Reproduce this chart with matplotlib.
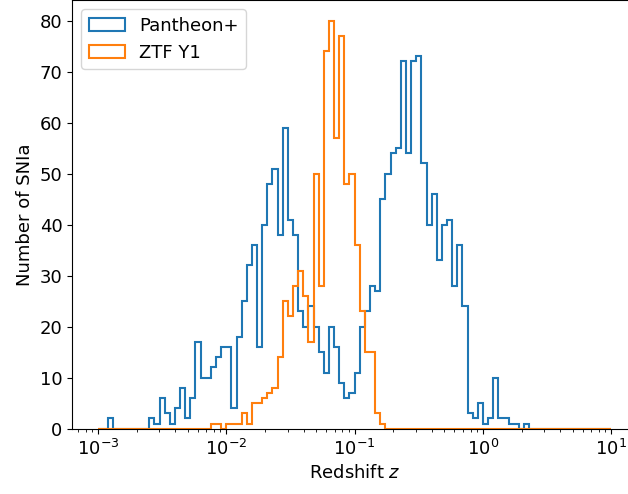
import numpy as np
import matplotlib
matplotlib.use("Agg")
import matplotlib.pyplot as plt

# log-spaced bins from 1e-3 to 1e1 (100 bins)
bin_edges = np.logspace(-3, 1, 101)

pantheon_counts = [
    0, 0, 2, 0, 0, 0, 0, 0, 0, 0,
    2, 1, 6, 3, 1, 4, 8, 2, 6, 17,
    10, 10, 12, 14, 16, 16, 4, 18, 25, 32,
    36, 16, 40, 48, 51, 38, 59, 41, 38, 23,
    20, 24, 20, 15, 11, 20, 16, 9, 6, 7,
    11, 20, 23, 28, 27, 45, 50, 54, 55, 72,
    54, 72, 73, 52, 40, 46, 33, 40, 41, 28,
    36, 24, 3, 2, 5, 1, 2, 10, 2, 2,
    1, 1, 0, 1, 0, 0, 0, 0, 0, 0,
    0, 0, 0, 0, 0, 0, 0, 0, 0, 0,
]

ztf_counts = [
    0, 0, 0, 0, 0, 0, 0, 0, 0, 0,
    0, 0, 0, 0, 0, 0, 0, 0, 0, 0,
    0, 0, 1, 1, 0, 1, 1, 1, 3, 1,
    5, 5, 6, 7, 8, 14, 25, 22, 28, 31,
    26, 17, 50, 28, 74, 80, 57, 77, 48, 50,
    36, 23, 15, 15, 3, 1, 0, 0, 0, 0,
    0, 0, 0, 0, 0, 0, 0, 0, 0, 0,
    0, 0, 0, 0, 0, 0, 0, 0, 0, 0,
    0, 0, 0, 0, 0, 0, 0, 0, 0, 0,
    0, 0, 0, 0, 0, 0, 0, 0, 0, 0,
]

labels = ["Pantheon+", "ZTF Y1"]

plt.rcParams["font.size"] = 13

fig = plt.figure(figsize=(6.28, 4.94), dpi=100)
ax = fig.add_axes([0.1151, 0.1322, 0.8992, 0.8672])

centers = np.sqrt(bin_edges[:-1] * bin_edges[1:])
ax.hist(centers, bins=bin_edges, weights=pantheon_counts, histtype="step",
        label=labels[0], color="C0", linewidth=1.5)
ax.hist(centers, bins=bin_edges, weights=ztf_counts, histtype="step",
        label=labels[1], color="C1", linewidth=1.5)
ax.set_xscale("log")
ax.set_xlabel("Redshift $z$")
ax.set_ylabel("Number of SNIa")
ax.legend(loc="upper left")

fig.savefig("out.png", dpi=100)
